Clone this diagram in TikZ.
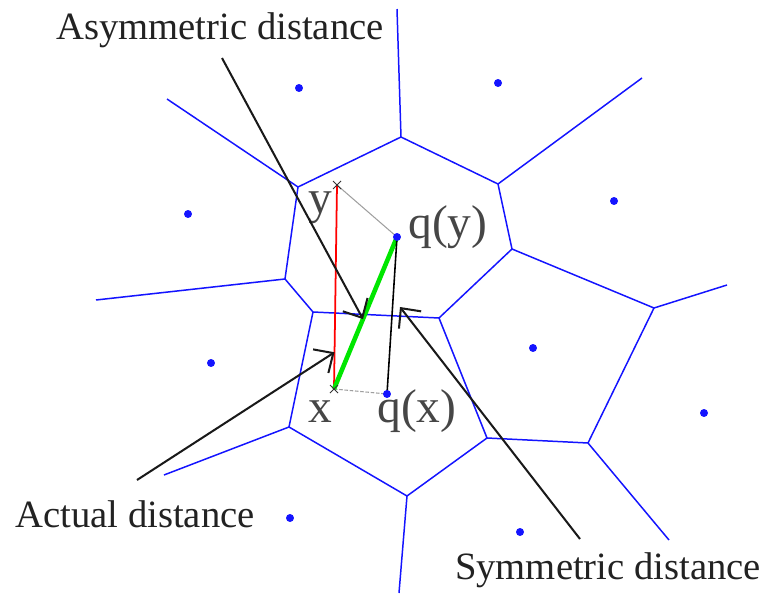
\documentclass[tikz,border=0pt]{standalone}
\usepackage{fontspec}
\setmainfont{Liberation Serif}
\usepackage{tikz}
\usetikzlibrary{arrows.meta,calc}
\definecolor{textDark}{RGB}{34,34,34}
\definecolor{labelGray}{RGB}{70,70,70}
\definecolor{cellBlue}{RGB}{20,20,255}
\definecolor{lineGreen}{RGB}{0,230,0}

\begin{document}
\begin{tikzpicture}[x=0.02cm, y=-0.02cm,
  cell/.style={cellBlue, line width=0.85pt},
  arr/.style={black!90, line width=1.15pt, -{Straight Barb[length=8.5pt,width=16pt]}},
  biglabel/.style={text=textDark, font=\fontsize{22}{26}\selectfont, anchor=base, inner sep=0pt},
  ptlabel/.style={text=labelGray, font=\fontsize{27}{32}\selectfont, anchor=base, inner sep=0pt},
  guide/.style={gray!75, line width=0.6pt}]

\useasboundingbox (0,0) rectangle (769,595);

%
\coordinate (vA) at (298,187);
\coordinate (vB) at (401,137);
\coordinate (vJ) at (498,184);
\coordinate (vF) at (512,249);
\coordinate (vE) at (439,318);
\coordinate (vD) at (313,312);
\coordinate (vC) at (285,279);
\coordinate (vL) at (289,427);
\coordinate (vK) at (407,496);
\coordinate (vI) at (487,438);
\coordinate (vG) at (654,308);
\coordinate (vH) at (588,443);

%
\draw[cell] (vA) -- (vB) -- (vJ) -- (vF) -- (vE) -- (vD) -- (vC) -- cycle;
\draw[cell] (vD) -- (vL) -- (vK) -- (vI) -- (vE);
\draw[cell] (vF) -- (vG) -- (vH) -- (vI);
\draw[cell] (vA) -- (167,99);
\draw[cell] (vB) -- (397,9);
\draw[cell] (vJ) -- (642,78);
\draw[cell] (vC) -- (96,300);
\draw[cell] (vL) -- (164,475);
\draw[cell] (vK) -- (399,593);
\draw[cell] (vG) -- (727,285);
\draw[cell] (vH) -- (669,540);

%
\foreach \p in {(299,88),(498,83),(188,214),(614,201),(211,363),(533,348),(704,413),(290,518),(520,532)}
  \fill[cellBlue] \p circle (0.08cm);

%
\coordinate (y) at (337,185);
\coordinate (x) at (334,389);
\coordinate (qy) at (397,237);
\coordinate (qx) at (387,394);

%
\draw[guide] (y) -- (qy);
\draw[guide, dash pattern=on 2pt off 1pt] (x) -- (qx);

%
\draw[red, line width=1pt] (x) -- (y);
\draw[lineGreen, line width=2.6pt] (x) -- (qy);
\draw[black, line width=0.9pt] (qx) -- (qy);

%
\foreach \c in {x,y}
  \draw[black!80, line width=0.6pt] ($(\c)+(-4,-4)$) -- ($(\c)+(4,4)$) ($(\c)+(-4,4)$) -- ($(\c)+(4,-4)$);
\fill[cellBlue] (qy) circle (0.08cm);
\fill[cellBlue] (qx) circle (0.08cm);

%
\node[ptlabel] (ylab) at (320,214) {y};
\node[ptlabel] (qylab) at (448,238) {q(y)};
\node[ptlabel] (xlab) at (320,422) {x};
\node[ptlabel] (qxlab) at (417,422) {q(x)};

%
\node[biglabel] (asym) at (220,39) {Asymmetric distance};
\node[biglabel] (actual) at (135,527) {Actual distance};
\node[biglabel] (sym) at (608,579) {Symmetric distance};

%
\coordinate (asymTail) at (222,58);
\coordinate (actualTail) at (137,480);
\coordinate (symTail) at (580,539);
\coordinate (asymTip) at ($(x)!0.46!(qy)$);
\coordinate (actualTip) at ($(x)!0.18!(y)$);
\coordinate (symTip) at (400,307);

\draw[arr] (asymTail) -- (asymTip);
\draw[arr] (actualTail) -- (actualTip);
\draw[arr] (symTail) -- (symTip);

\end{tikzpicture}
\end{document}
